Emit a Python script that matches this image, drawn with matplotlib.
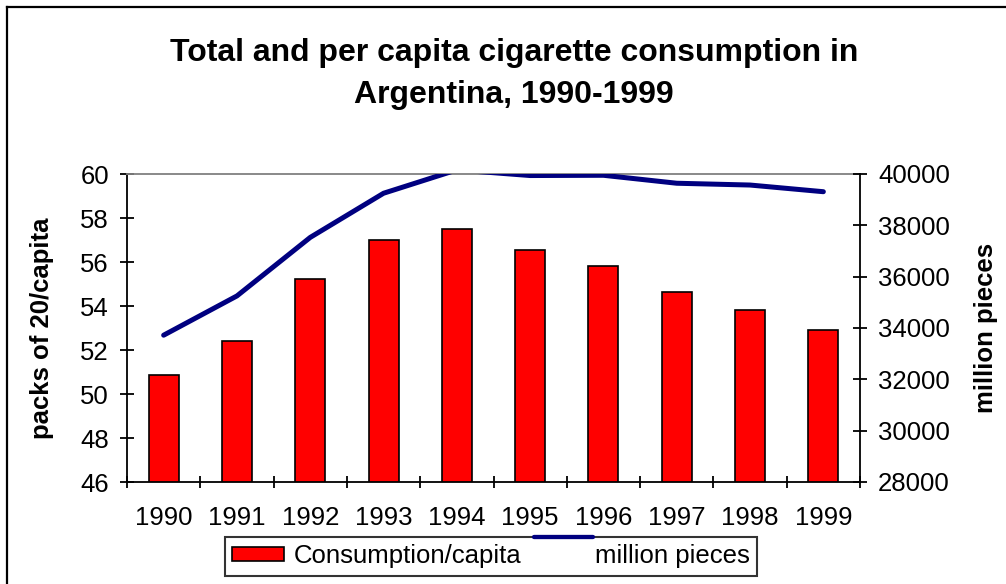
import numpy as np
import matplotlib
matplotlib.use("Agg")
import matplotlib.pyplot as plt
from matplotlib.lines import Line2D
from matplotlib.legend_handler import HandlerBase

plt.rcParams['font.family'] = ['Liberation Sans', 'DejaVu Sans']

# Data
years = ["1990", "1991", "1992", "1993", "1994", "1995", "1996", "1997", "1998", "1999"]
packs_per_capita = [50.87, 52.43, 55.25, 56.98, 57.51, 56.53, 55.80, 54.62, 53.80, 52.89]
million_pieces = [33720, 35250, 37530, 39250, 40160, 39940, 39950, 39640, 39570, 39310]

W, H = 1006, 584
fig = plt.figure(figsize=(W / 100, H / 100), dpi=100)


def px(xp, yp):
    """pixel position (from top-left) to figure fraction"""
    return xp / W, 1 - yp / H


class RaisedLineHandler(HandlerBase):
    """line handle drawn above the text row, like the old Excel legend"""
    def create_artists(self, legend, orig_handle, xdescent, ydescent,
                       width, height, fontsize, trans):
        y = height / 2 - ydescent + 12.2
        line = Line2D([-xdescent + 0.7, -xdescent + width + 5.8], [y, y],
                      color=orig_handle.get_color(), linewidth=3.1,
                      solid_capstyle="round", transform=trans)
        return [line]


# plot area in pixel coordinates
left, right, top, bottom = 127, 860, 174, 482
ax = fig.add_axes([left / W, 1 - bottom / H, (right - left) / W, (bottom - top) / H])

x = np.arange(len(years))
bars = ax.bar(x, packs_per_capita, width=0.41, color="#ff0000", edgecolor="black",
              linewidth=1.2, label="Consumption/capita", zorder=2)
ax.set_xlim(-0.5, len(years) - 0.5)
ax.set_ylim(46, 60)
ax.set_yticks(np.arange(46, 61, 2))
ax.set_xticks(x)
ax.set_xticklabels(years)
ax.set_xticks(np.arange(-0.5, len(years), 1), minor=True)
ax.tick_params(axis="x", which="major", length=0, labelsize=18.5, pad=17)
ax.tick_params(axis="x", which="minor", direction="inout", length=9, width=1.3)
ax.tick_params(axis="y", direction="inout", length=10, width=1.3, labelsize=18.5, pad=8)
ax.set_ylabel("packs of 20/capita", fontsize=18.5, fontweight="bold")
ax.yaxis.label.set_verticalalignment("center")
ax.yaxis.set_label_coords((42 - left) / (right - left), 0.5)

for side in ["left", "bottom"]:
    ax.spines[side].set_linewidth(1.3)
ax.spines["right"].set_visible(False)
ax.spines["top"].set_color("#808080")
ax.spines["top"].set_linewidth(1.3)

ax2 = ax.twinx()
line, = ax2.plot(x, million_pieces, color="#000080", linewidth=3.6,
                 solid_capstyle="round", label="million pieces", zorder=3)
ax2.set_ylim(28000, 40000)
ax2.set_yticks(np.arange(28000, 40001, 2000))
ax2.tick_params(axis="y", direction="inout", length=10, width=1.3, labelsize=18.5, pad=8)
ax2.set_ylabel("million pieces", fontsize=18.5, fontweight="bold")
ax2.yaxis.label.set_verticalalignment("center")
ax2.yaxis.set_label_coords((986 - left) / (right - left), 0.5)
ax2.spines["right"].set_linewidth(1.3)
for side in ["left", "top", "bottom"]:
    ax2.spines[side].set_visible(False)

title_lines = ["Total and per capita cigarette consumption in", "Argentina, 1990-1999"]
for txt, base in zip(title_lines, [61, 103]):
    fig.text(*px(514, base), txt, ha="center", va="baseline",
             fontsize=23, fontweight="bold")

leg = fig.legend([bars, line], ["Consumption/capita", "million pieces"], ncol=2,
                 loc="center", bbox_to_anchor=px(491, 556.5), fontsize=18.5,
                 frameon=True, fancybox=False, edgecolor="black",
                 handlelength=2.0, handleheight=0.47, handletextpad=0.39,
                 columnspacing=0.47, borderpad=0.3, borderaxespad=0,
                 handler_map={Line2D: RaisedLineHandler()})
leg.get_frame().set_linewidth(1.5)

# outer chart border (only top and left edges visible in the reference)
x0, y0 = px(7, 7)
fig.add_artist(Line2D([x0, x0], [0, y0], color="black", linewidth=1.6,
                      transform=fig.transFigure, solid_capstyle="projecting"))
fig.add_artist(Line2D([x0, 1], [y0, y0], color="black", linewidth=1.6,
                      transform=fig.transFigure, solid_capstyle="projecting"))

fig.savefig("out.png", dpi=100)
